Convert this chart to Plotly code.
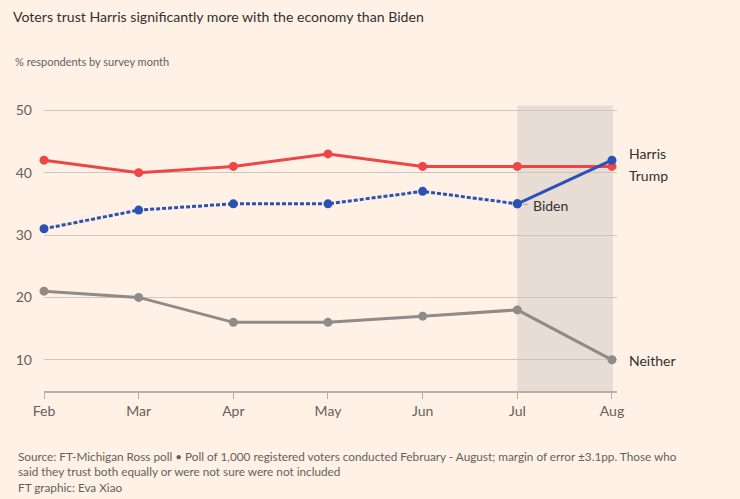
import plotly.graph_objects as go

months = ["Feb", "Mar", "Apr", "May", "Jun", "Jul", "Aug"]
trump = [42, 40, 41, 43, 41, 41, 41]
biden = [31, 34, 35, 35, 37, 35]
harris = [35, 42]
neither = [21, 20, 16, 16, 17, 18, 10]
y_ticks = [10, 20, 30, 40, 50]

BG = "#fff1e5"
RED = "#ec4646"
BLUE = "#2c51b4"
GREY = "#8e8b89"
TXT = "#33302e"
SUB = "#66605c"
FONT = "Lato"

x_idx = list(range(len(months)))

fig = go.Figure()

fig.add_shape(type="rect", xref="x", yref="y", x0=5, x1=6.01, y0=5, y1=50.7,
              fillcolor="#e7ddd5", line_width=0, layer="below")

fig.add_trace(go.Scatter(x=x_idx, y=neither, mode="lines+markers",
                         line=dict(color=GREY, width=3), marker=dict(size=9, color=GREY),
                         cliponaxis=False, hoverinfo="skip"))
fig.add_trace(go.Scatter(x=x_idx, y=trump, mode="lines+markers",
                         line=dict(color=RED, width=3), marker=dict(size=9, color=RED),
                         cliponaxis=False, hoverinfo="skip"))
fig.add_trace(go.Scatter(x=x_idx[:len(biden)], y=biden, mode="lines+markers",
                         line=dict(color=BLUE, width=3, dash="4px,2px"),
                         marker=dict(size=9, color=BLUE),
                         cliponaxis=False, hoverinfo="skip"))
fig.add_trace(go.Scatter(x=x_idx[5:], y=harris, mode="lines+markers",
                         line=dict(color=BLUE, width=3), marker=dict(size=9, color=BLUE),
                         cliponaxis=False, hoverinfo="skip"))

# end labels
labels = [("Harris", 6, 43.1, 15), ("Trump", 6, 39.6, 15), ("Biden", 5, 34.8, 14), ("Neither", 6, 9.85, 15)]
for txt, xv, yv, sh in labels:
    fig.add_annotation(x=xv, y=yv, xref="x", yref="y", text=txt, showarrow=False,
                       xanchor="left", yanchor="middle", xshift=sh,
                       font=dict(family=FONT, size=14, color=TXT))

# leader marks
lc = "#bcb3ab"
fig.add_shape(type="path", xref="x", yref="y",
              path="M 6.1 43.4 L 6.085 43.4 L 6.085 42.3 L 6.1 42.3", line=dict(color=lc, width=1))
fig.add_shape(type="path", xref="x", yref="y",
              path="M 6.1 41.2 L 6.085 41.2 L 6.085 39.7 L 6.1 39.7", line=dict(color=lc, width=1))
fig.add_shape(type="line", xref="x", yref="y", x0=5.06, x1=5.11, y0=34.9, y1=34.9,
              line=dict(color=lc, width=1.5))
fig.add_shape(type="line", xref="x", yref="y", x0=6.085, x1=6.125, y0=10, y1=10,
              line=dict(color=lc, width=1.5))

fig.update_xaxes(range=[0, 6.053], tickvals=x_idx, ticktext=months,
                 showgrid=False, zeroline=False, showline=True, linecolor="#b8aea6", linewidth=1.5,
                 ticks="outside", ticklen=6, tickcolor="#b8aea6", tickwidth=1,
                 tickfont=dict(family=FONT, size=14, color=SUB))
fig.update_yaxes(range=[5, 51], tickvals=y_ticks, showgrid=True, gridcolor="#cfc5bd", gridwidth=1,
                 zeroline=False, showline=False, ticks="", ticklabelstandoff=11,
                 tickfont=dict(family=FONT, size=14, color=SUB))

fig.update_layout(
    width=740, height=499, paper_bgcolor=BG, plot_bgcolor=BG,
    margin=dict(l=44, r=123, t=104, b=108),
    showlegend=False,
    title=dict(text="Voters trust Harris significantly more with the economy than Biden",
               x=13/740, xanchor="left", y=1 - 17/499, yanchor="middle",
               font=dict(family=FONT, size=14.1, color=TXT)),
)
fig.add_annotation(xref="paper", yref="paper", x=-31/573, xanchor="left",
                   y=1 + (104 - 61) / 287, yanchor="middle", showarrow=False,
                   text="% respondents by survey month",
                   font=dict(family=FONT, size=11, color=SUB))
fig.add_annotation(xref="paper", yref="paper", x=-28/573, xanchor="left",
                   y=-(447 - 391) / 287, yanchor="top", showarrow=False, align="left",
                   text="Source: FT-Michigan Ross poll \u2022 Poll of 1,000 registered voters conducted February - August; margin of error \u00b13.1pp. Those who<br>said they trust both equally or were not sure were not included<br>FT graphic: Eva Xiao",
                   font=dict(family=FONT, size=11.75, color=SUB))

fig.write_html("out.html")
